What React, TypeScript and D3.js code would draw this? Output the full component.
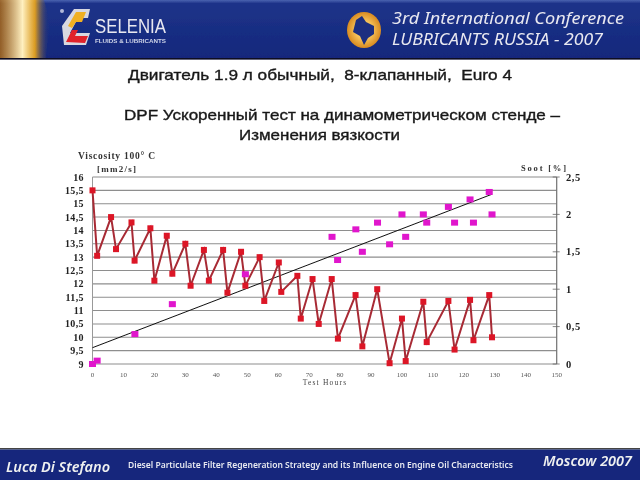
import React from "react";
import * as d3 from "d3";

const titleLine = "Двигатель 1.9 л обычный,  8-клапанный,  Euro 4";
const subtitleLine1 = "DPF Ускоренный тест на динамометрическом стенде –";
const subtitleLine2 = "Изменения вязкости";

const viscosityHours = [0,1.5,6,7.6,12.6,13.6,18.7,20,24,25.8,30,31.7,36,37.6,42.2,43.6,48,49.4,54,55.5,60.2,61,66.2,67.3,71.1,73.1,77.3,79.3,85,87.2,92,96,100,101.2,106.9,108,115,117,122,123.1,128.2,129.1];
const viscosityValues = [15.5,13.05,14.5,13.3,14.3,12.87,14.08,12.12,13.8,12.38,13.5,11.93,13.27,12.12,13.27,11.67,13.2,11.93,13.0,11.36,12.8,11.7,12.3,10.7,12.18,10.5,12.18,9.95,11.58,9.66,11.8,9.03,10.7,9.11,11.33,9.82,11.36,9.54,11.4,9.89,11.58,10.0];
const sootHours = [0,1.5,13.7,25.8,49.4,77.4,79.2,85.1,87.2,92.1,96,100,101.2,106.9,108,115,117,122,123.1,128.2,129.1];
const sootValues = [0,0.045,0.4,0.8,1.2,1.7,1.39,1.8,1.5,1.89,1.6,2.0,1.7,2.0,1.89,2.1,1.89,2.2,1.89,2.3,2.0];
const trendHours = [0,129.1];
const trendValues = [0.218,2.27];

const viscosityTicks = [9,9.5,10,10.5,11,11.5,12,12.5,13,13.5,14,14.5,15,15.5,16];
const sootTicks = [0,0.5,1,1.5,2,2.5];
const hourTicks = [0,10,20,30,40,50,60,70,80,90,100,110,120,130,140,150];

const x = d3.scaleLinear().domain([0,150]).range([92.5,556.7]);
const yV = d3.scaleLinear().domain([9,16]).range([364,177]);
const yS = d3.scaleLinear().domain([0,2.5]).range([364,177]);
const comma = (v:number)=>String(v).replace(".",",");
const SERIF = "'Liberation Serif','DejaVu Serif',serif";
const SANS = "'Liberation Sans',Arial,sans-serif";
const ITAL = "'Noto Sans','Open Sans',sans-serif";

export default function App(){
  const vLine = d3.line<number>().x((_,i)=>x(viscosityHours[i])).y(d=>yV(d));
  const tLine = d3.line<number>().x((_,i)=>x(trendHours[i])).y(d=>yS(d));
  const head = {fontFamily:SANS,fontSize:14.5,fill:"#1a1a1a",stroke:"#1a1a1a",strokeWidth:0.35,lengthAdjust:"spacingAndGlyphs"} as const;
  return (
    <svg width={640} height={480} viewBox="0 0 640 480" style={{position:"absolute",left:0,top:0,background:"#fff"}}>
      <defs>
        <linearGradient id="band" x1="0" x2="0" y1="0" y2="1">
          <stop offset="0" stopColor="#4a63b0"/><stop offset="0.06" stopColor="#1d3389"/><stop offset="1" stopColor="#14287c"/>
        </linearGradient>
        <linearGradient id="flame" x1="0" x2="1" y1="0" y2="0">
          <stop offset="0" stopColor="#b06a10" stopOpacity="0.8"/><stop offset="0.45" stopColor="#fff0c0"/><stop offset="0.7" stopColor="#f0a818" stopOpacity="0.9"/><stop offset="1" stopColor="#14287c" stopOpacity="0"/>
        </linearGradient>
        <radialGradient id="ball"><stop offset="0.5" stopColor="#f6c25a"/><stop offset="1" stopColor="#d88a20"/></radialGradient>
        <filter id="soft" x="-5%" y="-5%" width="110%" height="110%"><feGaussianBlur stdDeviation="0.45"/></filter>
      </defs>

      <g filter="url(#soft)">
        <rect x={0} y={0} width={640} height={58} fill="url(#band)"/>
        <path d="M0 0 L44 0 L50 20 L46 58 L0 58 Z" fill="url(#flame)"/>
        <rect x={0} y={58} width={640} height={1.6} fill="#0a0a20"/>
        <path d="M62 26 L74 9 L90 9 L88 18 L78 18 L70 33 L90 33 L86 45 L64 45 Z" fill="#d8d8e0"/>
        <path d="M68 26 L76 12 L86 12 L82 22 L76 22 L72 28 Z" fill="#f0b020"/>
        <path d="M66 42 L72 30 L78 30 L75 36 L88 36 L85 43 Z" fill="#e0202c"/>
        <circle cx={62} cy={11} r={2} fill="#b0b8d8"/>
        <text x={95} y={33} fontFamily={SANS} fontSize={20} fill="#e8e8f0" textLength={71} lengthAdjust="spacingAndGlyphs">SELENIA</text>
        <text x={95} y={43} fontFamily={SANS} fontSize={5.5} fontWeight="bold" fill="#cfd4e8" textLength={71} lengthAdjust="spacingAndGlyphs">FLUIDS &amp; LUBRICANTS</text>
        <ellipse cx={364} cy={30} rx={17} ry={18} fill="url(#ball)"/>
        <path d="M356 20 L362 16 L366 22 L374 26 L374 34 L368 38 L364 45 L360 36 L353 32 Z" fill="#1a2f80"/>
        <text x={392} y={24} fontFamily={ITAL} fontStyle="italic" fontSize={17} fill="#e8e8f0" textLength={232} lengthAdjust="spacingAndGlyphs">3rd International Conference</text>
        <text x={392} y={45} fontFamily={ITAL} fontStyle="italic" fontSize={17} fill="#e8e8f0" textLength={211} lengthAdjust="spacingAndGlyphs">LUBRICANTS RUSSIA - 2007</text>

        <text x={128} y={80} {...head} textLength={384} xmlSpace="preserve">{titleLine}</text>
        <text x={124} y={120} {...head} textLength={436}>{subtitleLine1}</text>
        <text x={239} y={140} {...head} textLength={161}>{subtitleLine2}</text>

        {viscosityTicks.map(t=>(
          <line key={t} x1={x(0)} x2={x(150)} y1={yV(t)} y2={yV(t)} stroke="#8e8e8e" strokeWidth={1.1}/>
        ))}
        <line x1={x(0)} x2={x(0)} y1={177} y2={364} stroke="#999" strokeWidth={1}/>
        <line x1={x(150)} x2={x(150)} y1={177} y2={364} stroke="#707070" strokeWidth={1.2}/>
        {sootTicks.map(t=>(
          <line key={t} x1={x(150)-4} x2={x(150)+3} y1={yS(t)} y2={yS(t)} stroke="#666" strokeWidth={0.8}/>
        ))}
        {viscosityTicks.map(t=>(
          <text key={t} x={84} y={yV(t)+3.5} textAnchor="end" fontFamily={SERIF} fontWeight="bold" fontSize={10} fill="#222" letterSpacing={0.4}>{comma(t)}</text>
        ))}
        {sootTicks.map(t=>(
          <text key={t} x={566} y={yS(t)+3.5} fontFamily={SERIF} fontWeight="bold" fontSize={10.5} fill="#222" letterSpacing={0.6}>{comma(t)}</text>
        ))}
        {hourTicks.map(t=>(
          <text key={t} x={x(t)} y={377} textAnchor="middle" fontFamily={SERIF} fontSize={7} fill="#555">{t}</text>
        ))}
        <text x={325} y={385} textAnchor="middle" fontFamily={SERIF} fontSize={7.5} fill="#444" letterSpacing={1.2}>Test Hours</text>
        <text x={78} y={159} fontFamily={SERIF} fontWeight="bold" fontSize={9.5} fill="#333" textLength={77} lengthAdjust="spacing">Viscosity 100° C</text>
        <text x={97} y={172} fontFamily={SERIF} fontWeight="bold" fontSize={9} fill="#333" textLength={39} lengthAdjust="spacing">[mm2/s]</text>
        <text x={521} y={171} fontFamily={SERIF} fontWeight="bold" fontSize={8.5} fill="#333" textLength={45} lengthAdjust="spacing">Soot [%]</text>

        <path d={tLine(trendValues)!} fill="none" stroke="#111" strokeWidth={1}/>
        <path d={vLine(viscosityValues)!} fill="none" stroke="#a82a34" strokeWidth={2}/>
        {viscosityValues.map((v,i)=>(
          <rect key={i} x={x(viscosityHours[i])-3} y={yV(v)-3} width={6} height={6} fill="#dc1426"/>
        ))}
        {sootValues.map((v,i)=>(
          <rect key={i} x={x(sootHours[i])-3.5} y={yS(v)-3} width={7} height={6} fill="#e014cc"/>
        ))}

        <rect x={0} y={448} width={640} height={1.5} fill="#444"/>
        <rect x={0} y={449.5} width={640} height={30.5} fill="#14287c"/>
        <text x={6} y={472} fontFamily={ITAL} fontStyle="italic" fontWeight="600" fontSize={14} fill="#f0f0f0" textLength={104} lengthAdjust="spacingAndGlyphs">Luca Di Stefano</text>
        <text x={128} y={468} fontFamily={ITAL} fontWeight="600" fontSize={8} fill="#e8e8f0" textLength={385} lengthAdjust="spacingAndGlyphs">Diesel Particulate Filter Regeneration Strategy and its Influence on Engine Oil Characteristics</text>
        <text x={543} y={466} fontFamily={ITAL} fontStyle="italic" fontWeight="600" fontSize={14} fill="#f0f0f0" textLength={89} lengthAdjust="spacingAndGlyphs">Moscow 2007</text>
      </g>
    </svg>
  );
}
